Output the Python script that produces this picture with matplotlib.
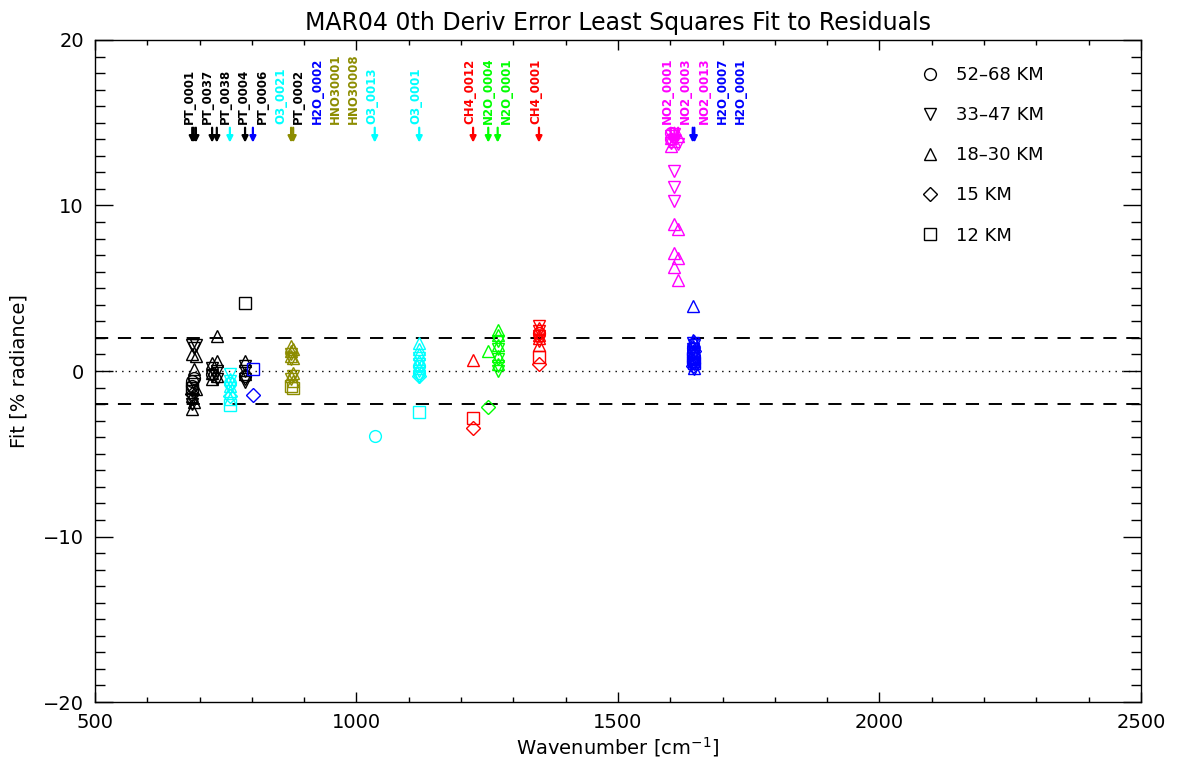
import matplotlib
matplotlib.use("Agg")
import matplotlib.pyplot as plt
import matplotlib.transforms as mtransforms
from matplotlib.lines import Line2D
from matplotlib.ticker import MultipleLocator

plt.rcParams["font.family"] = ["DejaVu Sans"]
plt.rcParams["lines.scale_dashes"] = False

# Microwindows: name, centre wavenumber [cm-1], species
window_names = ["PT_0001", "PT_0037", "PT_0038", "PT_0004", "PT_0006", "O3_0021",
                "PT_0002", "H2O_0002", "HNO30001", "HNO30008", "O3_0013", "O3_0001",
                "CH4_0012", "N2O_0004", "N2O_0001", "CH4_0001", "NO2_0001", "NO2_0003",
                "NO2_0013", "H2O_0007", "H2O_0001"]
window_wn = [686, 689, 693, 724, 733, 758, 787, 802, 875, 879, 1035, 1120,
             1223, 1252, 1270, 1349, 1601, 1608, 1615, 1643, 1646]
window_species = ["PT", "PT", "PT", "PT", "PT", "O3", "PT", "H2O", "HNO3", "HNO3", "O3", "O3",
                  "CH4", "N2O", "N2O", "CH4", "NO2", "NO2", "NO2", "H2O", "H2O"]
species_colors = {"PT": "#000000", "O3": "#00FFFF", "H2O": "#0000FF", "HNO3": "#8C8C00",
                  "CH4": "#FF0000", "N2O": "#00FF00", "NO2": "#FF00FF"}

# Altitude layers
layer_labels = ["52\u201368 KM", "33\u201347 KM", "18\u201330 KM", "15 KM", "12 KM"]
layer_markers = ["o", "v", "^", "D", "s"]
layer_sizes = [8.5, 8.5, 8.5, 7.0, 9.0]

# Fit results: window index, layer index, fit [% radiance]
fit_window = [0, 0, 0, 0, 0, 0, 0, 0, 0, 0, 0,
              1, 1, 1, 1, 1,
              2, 2, 2,
              3, 3, 3, 3, 3, 3,
              4, 4, 4, 4, 4,
              5, 5, 5, 5, 5, 5, 5, 5, 5, 5,
              6, 6, 6, 6, 6, 6, 6, 6,
              7, 7,
              8, 8, 8, 8, 8, 8, 8, 8,
              9, 9, 9, 9, 9, 9,
              10,
              11, 11, 11, 11, 11, 11, 11, 11, 11, 11, 11, 11, 11, 11,
              12, 12, 12,
              13, 13,
              14, 14, 14, 14, 14, 14, 14, 14, 14, 14,
              15, 15, 15, 15, 15, 15, 15, 15, 15, 15, 15,
              16, 16, 16, 16, 16, 16,
              17, 17, 17, 17, 17, 17, 17, 17,
              18, 18, 18, 18, 18,
              19, 19, 19, 19, 19, 19, 19, 19, 19, 19, 19, 19, 19, 19,
              20, 20, 20, 20, 20, 20, 20, 20, 20, 20, 20, 20]
fit_layer = [0, 0, 1, 1, 1, 1, 2, 2, 2, 3, 4,
             0, 1, 1, 2, 2,
             1, 2, 2,
             0, 1, 1, 2, 2, 2,
             1, 1, 2, 2, 2,
             0, 1, 1, 1, 2, 2, 2, 2, 3, 4,
             0, 1, 1, 1, 2, 2, 1, 4,
             3, 4,
             2, 2, 2, 1, 1, 2, 1, 4,
             2, 2, 2, 1, 2, 4,
             0,
             2, 2, 2, 2, 2, 1, 1, 1, 1, 1, 0, 0, 3, 4,
             2, 4, 3,
             2, 3,
             2, 2, 2, 2, 2, 1, 1, 1, 1, 1,
             1, 1, 1, 1, 2, 2, 2, 2, 0, 4, 3,
             0, 0, 1, 1, 2, 2,
             1, 1, 1, 2, 2, 2, 1, 2,
             2, 2, 2, 2, 1,
             2, 2, 2, 2, 2, 1, 1, 1, 1, 0, 0, 0, 3, 4,
             2, 2, 2, 2, 1, 1, 1, 1, 0, 0, 3, 4]
fit_value = [-0.6, -0.9, 1.6, -1.2, -1.7, -2.0, 1.0, -1.5, -2.3, -1.4, -1.0,
             -0.4, 1.4, -0.8, 0.1, -1.9,
             1.6, 0.9, -1.1,
             -0.2, 0.2, -0.3, 0.5, -0.5, -0.1,
             0.0, -0.5, 2.1, 0.6, -0.3,
             -0.7, -0.2, -0.6, -1.0, -0.5, -0.9, -1.2, -1.7, -1.5, -2.05,
             -0.3, 0.3, 0.0, -0.5, 0.6, -0.2, -0.65, 4.1,
             -1.45, 0.1,
             1.5, 1.2, 0.9, 1.0, 0.7, -0.3, -0.5, -0.9,
             1.3, 0.8, -0.1, -0.3, -0.6, -1.0,
             -3.9,
             1.7, 1.3, 1.0, 0.6, 0.2, 0.8, 0.4, 0.0, -0.3, -0.35, 0.3, -0.1, -0.3, -2.5,
             0.65, -2.85, -3.45,
             1.2, -2.2,
             2.5, 2.2, 1.6, 0.9, 0.4, 1.8, 1.3, 0.7, 0.3, 0.0,
             2.7, 2.4, 2.1, 1.8, 2.6, 2.2, 2.0, 1.6, 2.3, 0.85, 0.45,
             14.4, 14.0, 14.2, 13.8, 14.1, 13.6,
             12.1, 11.1, 10.3, 8.9, 7.1, 6.3, 14.3, 13.9,
             8.6, 6.8, 5.5, 14.2, 13.7,
             3.9, 1.9, 1.5, 1.1, 0.7, 1.7, 1.3, 0.9, 0.5, 1.4, 1.0, 0.6, 0.3, 0.8,
             1.8, 1.2, 0.6, 0.2, 1.6, 1.0, 0.4, 0.1, 0.9, 0.5, 1.2, 0.5]

fig = plt.figure(figsize=(11.81, 7.69), dpi=100)
ax = fig.add_axes([0.0804, 0.0871, 0.8857, 0.8609])

# +/- 2 % tolerance and zero reference
ax.axhline(2.0, color="black", lw=1.4, dashes=(9.5, 7.0), zorder=1)
ax.axhline(-2.0, color="black", lw=1.4, dashes=(9.5, 7.0), zorder=1)
ax.axhline(0.0, color="black", lw=1.0, dashes=(1.0, 3.8), zorder=1)

# Fit results
for w, l, v in zip(fit_window, fit_layer, fit_value):
    ax.plot([window_wn[w]], [v], ls="none", marker=layer_markers[l],
            ms=layer_sizes[l], mfc="none", mew=1.0,
            mec=species_colors[window_species[w]], zorder=3)

# Microwindow markers with labels spread so they do not overlap
label_shift = mtransforms.offset_copy(ax.transData, fig=fig, x=-3.3, y=0, units="dots")
prev = -1e9
for name, wn, sp in zip(window_names, window_wn, window_species):
    col = species_colors[sp]
    lx = max(wn, prev + 35)
    prev = lx
    ax.text(lx, 14.9, name, rotation=90, ha="center", va="bottom",
            fontsize=8.5, fontweight="bold", color=col, transform=label_shift)
    ax.annotate("", xy=(wn, 13.8), xytext=(wn, 14.7),
                arrowprops=dict(arrowstyle="-|>", color=col, lw=1.6,
                                mutation_scale=9, shrinkA=0, shrinkB=0))

ax.set_xlim(500, 2500)
ax.set_ylim(-20, 20)
ax.xaxis.set_major_locator(MultipleLocator(500))
ax.xaxis.set_minor_locator(MultipleLocator(100))
ax.yaxis.set_major_locator(MultipleLocator(10))
ax.yaxis.set_minor_locator(MultipleLocator(1))
ax.tick_params(which="both", direction="in", top=True, right=True, width=1.0)
ax.tick_params(axis="x", which="major", length=7, pad=8, labelsize=14)
ax.tick_params(axis="x", which="minor", length=3.6)
ax.tick_params(axis="y", which="major", length=13, pad=8, labelsize=14)
ax.tick_params(axis="y", which="minor", length=7)
for s in ax.spines.values():
    s.set_linewidth(1.0)

ax.set_title("MAR04 0th Deriv Error Least Squares Fit to Residuals", fontsize=17, pad=7)
ax.set_xlabel("Wavenumber [cm$^{-1}$]", fontsize=14, labelpad=2)
ax.set_ylabel("Fit [% radiance]", fontsize=14, labelpad=10)

handles = [Line2D([], [], ls="none", marker=m, ms=s, mfc="none", mec="black", mew=1.0)
           for m, s in zip(layer_markers, layer_sizes)]
ax.legend(handles, layer_labels, loc="upper left", bbox_to_anchor=(0.783, 0.971),
          frameon=False, fontsize=13, handlelength=1.0, handletextpad=0.9,
          labelspacing=1.22, borderaxespad=0)

fig.savefig("out.png", dpi=100)
